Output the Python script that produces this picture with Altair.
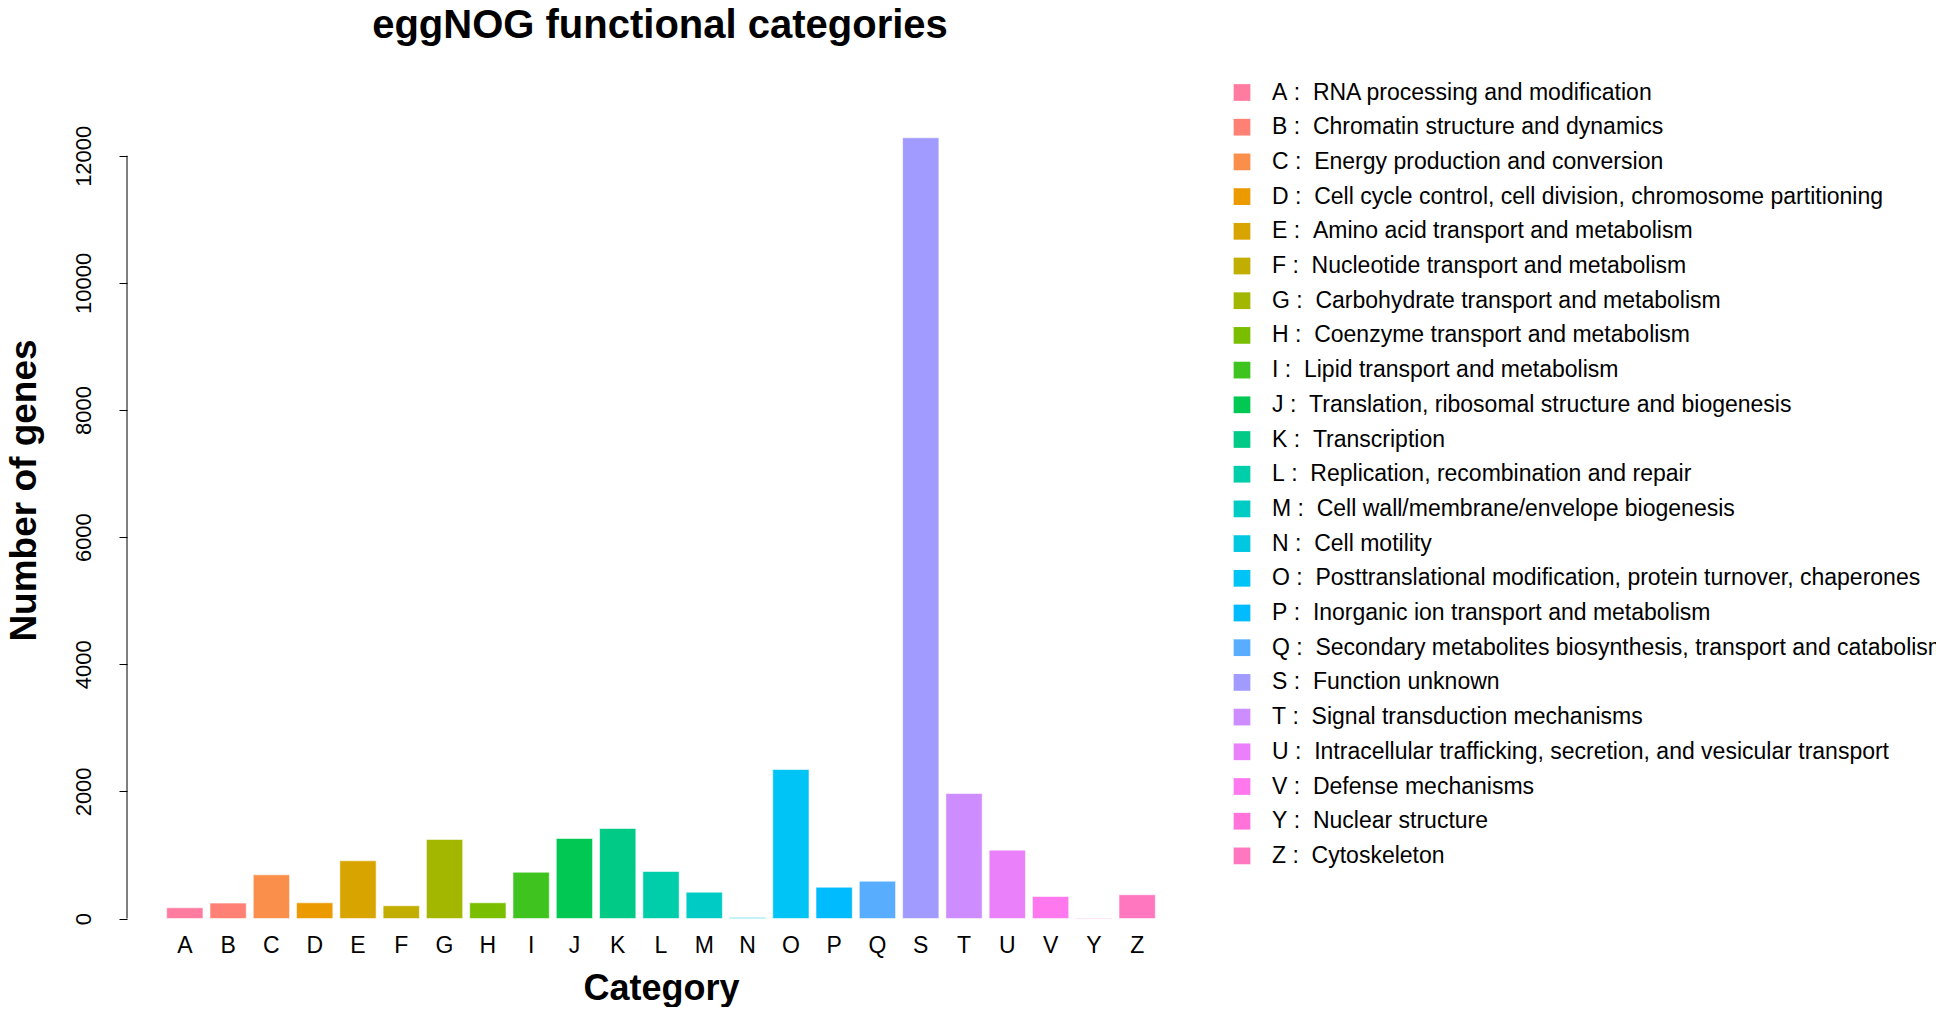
import altair as alt
import pandas as pd

title_text = "eggNOG functional categories"
cats = list("ABCDEFGHIJKLMNOPQSTUVYZ")
descs = [
    "RNA processing and modification",
    "Chromatin structure and dynamics",
    "Energy production and conversion",
    "Cell cycle control, cell division, chromosome partitioning",
    "Amino acid transport and metabolism",
    "Nucleotide transport and metabolism",
    "Carbohydrate transport and metabolism",
    "Coenzyme transport and metabolism",
    "Lipid transport and metabolism",
    "Translation, ribosomal structure and biogenesis",
    "Transcription",
    "Replication, recombination and repair",
    "Cell wall/membrane/envelope biogenesis",
    "Cell motility",
    "Posttranslational modification, protein turnover, chaperones",
    "Inorganic ion transport and metabolism",
    "Secondary metabolites biosynthesis, transport and catabolism",
    "Function unknown",
    "Signal transduction mechanisms",
    "Intracellular trafficking, secretion, and vesicular transport",
    "Defense mechanisms",
    "Nuclear structure",
    "Cytoskeleton",
]
counts = [168, 242, 688, 247, 908, 200, 1243, 247, 728, 1259, 1416, 739, 414,
          15, 2344, 492, 587, 12283, 1967, 1075, 346, 8, 373]
colors = ["#FF7BA0", "#FF8075", "#FA8F4B", "#EB9A00", "#D8A400", "#C1AE00",
          "#A4B700", "#7ABE00", "#3EC31F", "#00C853", "#00CA85", "#00CDA9",
          "#00CCC5", "#00C8E0", "#00C4F6", "#00BBFD", "#58ADFF", "#A19BFF",
          "#CD8CFF", "#EA80FA", "#FF78EE", "#FF73DA", "#FF77BE"]
y_ticks = [0, 2000, 4000, 6000, 8000, 10000, 12000]

NB = "\u00a0"
labels = [f"{c}{NB}:{NB}{NB}{d}" for c, d in zip(cats, descs)]
df = pd.DataFrame({"cat": cats, "count": counts, "label": labels})

FONT = "Liberation Sans"
W, H = 1068, 794.5

yscale = alt.Scale(domain=[0, 12500], nice=False, zero=True)

bars = alt.Chart(df).mark_bar(stroke="white", strokeOpacity=0.55, strokeWidth=1).encode(
    x=alt.X("cat:N", sort=cats,
            scale=alt.Scale(paddingInner=0.162, paddingOuter=0.917),
            axis=alt.Axis(title="Category", labelAngle=0, ticks=False, domain=False,
                          labelFontSize=23, labelFont=FONT, labelColor="black",
                          labelPadding=15.5,
                          titleFontSize=36, titleFont=FONT, titleFontWeight="bold",
                          titleColor="black", titleBaseline="alphabetic", titleY=81)),
    y=alt.Y("count:Q", scale=yscale,
            axis=alt.Axis(title="Number of genes", values=y_ticks, grid=False, domain=False,
                          format="d",
                          tickSize=8, tickColor="black", tickWidth=1,
                          labelAngle=270, labelAlign="center", labelBaseline="bottom",
                          labelFontSize=22, labelFont=FONT, labelColor="black",
                          labelPadding=24,
                          titleFontSize=37, titleFont=FONT, titleFontWeight="bold",
                          titleColor="black", titleAngle=270, titleAlign="center",
                          titleBaseline="alphabetic", titleX=-92, titleY=366)),
    color=alt.Color("label:N", scale=alt.Scale(domain=labels, range=colors),
                    legend=alt.Legend(orient="none", legendX=1103.5, legendY=-43,
                                      title=None, symbolType="square", symbolSize=280,
                                      symbolStrokeWidth=0, labelFontSize=23,
                                      labelFont=FONT, labelColor="black",
                                      rowPadding=10.7, labelOffset=18.5, padding=0,
                                      labelLimit=1000)),
)

axis_line = alt.Chart(pd.DataFrame({"lo": [y_ticks[0]], "hi": [y_ticks[-1]]})).mark_rule(
    color="black", strokeWidth=1).encode(
    x=alt.value(0),
    y=alt.Y("lo:Q", scale=yscale),
    y2="hi:Q",
)

title = alt.Chart(pd.DataFrame({"t": [title_text]})).mark_text(
    font=FONT, fontSize=40, fontWeight="bold", color="black",
    align="center", baseline="alphabetic").encode(
    text="t:N",
    x=alt.value(533),
    y=alt.value(-86),
)

chart = alt.layer(bars, axis_line, title).properties(
    width=W, height=H,
    autosize=alt.AutoSizeParams(type="none"),
    padding={"left": 119, "top": 116, "right": 741, "bottom": 88},
).configure_view(stroke=None)

chart.save("out.html", embed_options={"renderer": "svg", "actions": False})
